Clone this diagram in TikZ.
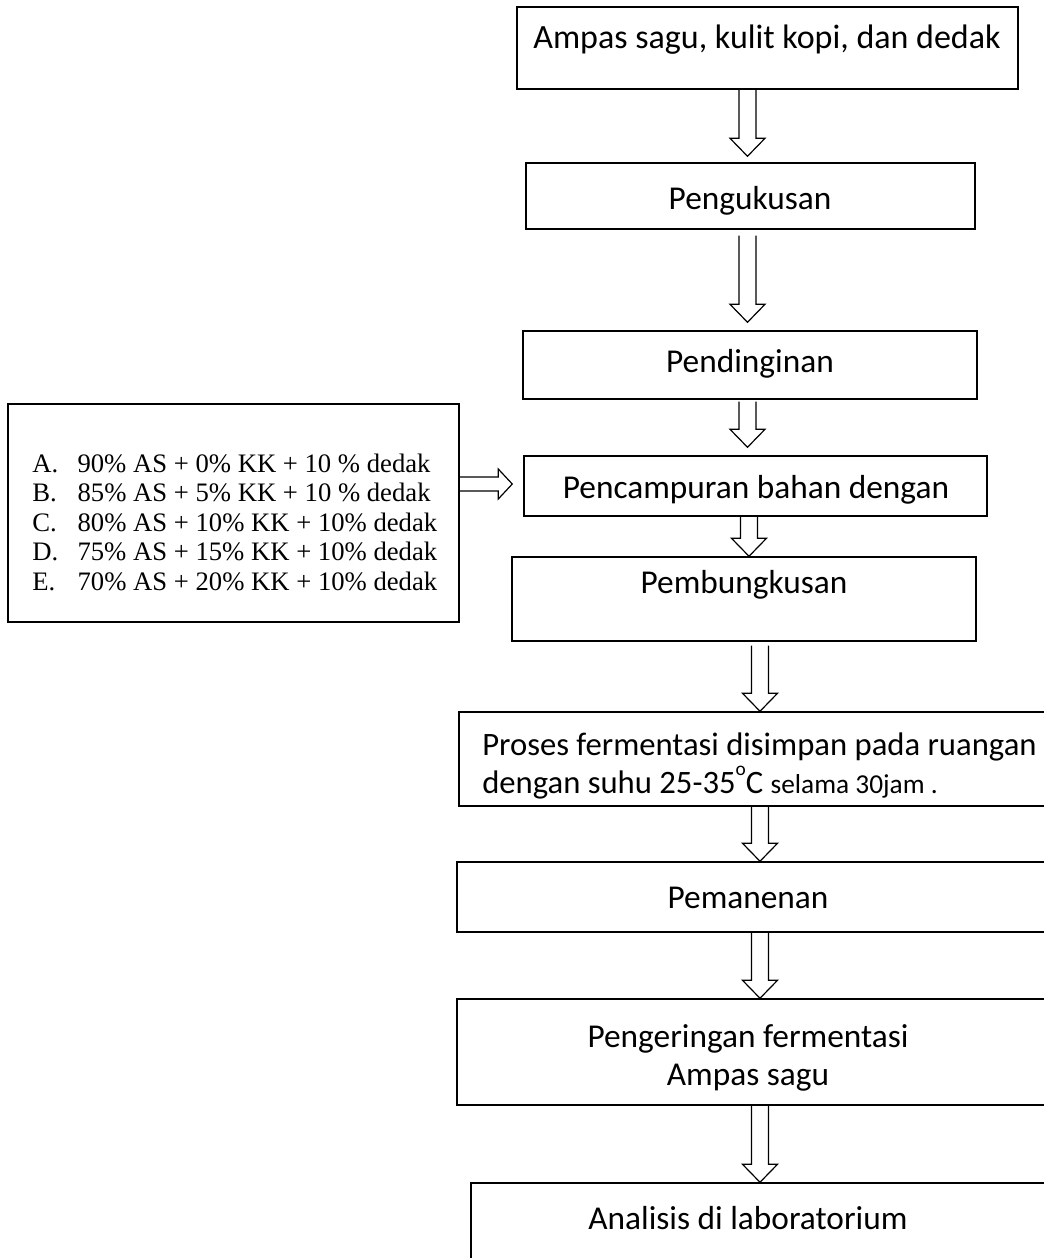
\documentclass[tikz,border=0pt]{standalone}
\usepackage{fontspec}
\setmainfont{Carlito}
\newfontfamily\timesfont{Liberation Serif}
\usetikzlibrary{calc}
\usetikzlibrary{fit}

\begin{document}
\begin{tikzpicture}[x=0.75pt,y=0.75pt,yscale=-1,xscale=1,
  procbox/.style={draw, line width=1.1pt, inner sep=0pt},
  flowtext/.style={font=\fontsize{25}{29}\selectfont, inner sep=0pt, anchor=base},
  fatdown/.style={line width=0.9pt, line join=miter, to path={($(\tikztostart)+(-8.5,0)$) -- ($(\tikztotarget)+(-8.5,-18)$) -- ($(\tikztotarget)+(-17.5,-18)$) -- (\tikztotarget) -- ($(\tikztotarget)+(17.5,-18)$) -- ($(\tikztotarget)+(8.5,-18)$) -- ($(\tikztostart)+(8.5,0)$)}},
  fatright/.style={line width=0.9pt, line join=miter, to path={($(\tikztostart)+(0,-7)$) -- ($(\tikztotarget)+(-14,-7)$) -- ($(\tikztotarget)+(-14,-15)$) -- (\tikztotarget) -- ($(\tikztotarget)+(-14,15)$) -- ($(\tikztotarget)+(-14,7)$) -- ($(\tikztostart)+(0,7)$)}}]
\useasboundingbox (0,0) rectangle (1044,1258);
\clip (0,0) rectangle (1044,1258);

% arrow columns
\coordinate (axa) at (747.5,0);
\coordinate (axb) at (749,0);
\coordinate (axc) at (760,0);
\coordinate (armY) at (0,484);

%Shape: Rectangle [boxes]
\node[procbox, fit={(517,7) (1018,89)}] (ampas) {};
\node[procbox, fit={(526,163) (975,229)}] (pengukusan) {};
\node[procbox, fit={(523,331) (977,399)}] (pendinginan) {};
\node[procbox, fit={(524,456) (987,516)}] (pencampuran) {};
\node[procbox, fit={(512,557) (976,641)}] (pembungkusan) {};
\node[procbox, fit={(459,712) (1080,806)}] (proses) {};
\node[procbox, fit={(457,862) (1080,932)}] (pemanenan) {};
\node[procbox, fit={(457,999) (1080,1105)}] (pengeringan) {};
\node[procbox, fit={(471,1183) (1080,1300)}] (analisis) {};
\node[procbox, fit={(8,404) (459,622)}] (komposisi) {};

%Block Arrows
\draw[fatdown] (ampas.south -| axa) to ($(pengukusan.north -| axa)+(0,-6)$);
\draw[fatdown] ($(pengukusan.south -| axa)+(0,6)$) to ($(pendinginan.north -| axa)+(0,-8)$);
\draw[fatdown] ($(pendinginan.south -| axa)+(0,2)$) to ($(pencampuran.north -| axa)+(0,-8)$);
\draw[fatdown] (pencampuran.south -| axb) to (pembungkusan.north -| axb);
\draw[fatdown] ($(pembungkusan.south -| axc)+(0,4)$) to (proses.north -| axc);
\draw[fatdown] (proses.south -| axc) to (pemanenan.north -| axc);
\draw[fatdown] (pemanenan.south -| axc) to (pengeringan.north -| axc);
\draw[fatdown] (pengeringan.south -| axc) to (analisis.north -| axc);
\draw[fatright] (komposisi.east |- armY) to ($(pencampuran.west |- armY)+(-11,0)$);

% Text Node
\node[flowtext, font=\fontsize{25.5}{29}\selectfont] (tampas) at (767,48) {Ampas sagu, kulit kopi, dan dedak};
% Text Node
\node[flowtext] (tpengukusan) at (750,209) {Pengukusan};
% Text Node
\node[flowtext] (tpendinginan) at (750,372) {Pendinginan};
% Text Node
\node[flowtext] (tpencampuran) at (756,498) {Pencampuran bahan dengan};
% Text Node
\node[flowtext] (tpembungkusan) at (744,593) {Pembungkusan};
% Text Node
\node[flowtext, anchor=base west, font=\fontsize{24.5}{29}\selectfont] (tproses) at (482,755) {Proses fermentasi disimpan pada ruangan};
% Text Node
\node[flowtext, anchor=base west, font=\fontsize{24.5}{29}\selectfont] (tsuhu) at (482,793) {dengan suhu 25-35\raisebox{1.15ex}{\fontsize{14.5}{15}\selectfont o}C {\fontsize{20.5}{29}\selectfont selama 30jam .}};
% Text Node
\node[flowtext] (tpemanenan) at (748,908) {Pemanenan};
% Text Node
\node[flowtext] (tpengeringan) at (748,1047) {Pengeringan fermentasi};
% Text Node
\node[flowtext] (tampassagu) at (748,1085) {Ampas sagu};
% Text Node
\node[flowtext] (tanalisis) at (748,1229) {Analisis di laboratorium};
% Text Node
\node[anchor=base west, inner sep=0pt, font=\timesfont\fontsize{20}{22.2}\selectfont] (tkomposisi) at (32,472) {\begin{tabular}[t]{@{}p{34pt}@{}l@{}}
A. & 90\% AS + 0\% KK + 10 \% dedak\\
B. & 85\% AS + 5\% KK + 10 \% dedak\\
C. & 80\% AS + 10\% KK + 10\% dedak\\
D. & 75\% AS + 15\% KK + 10\% dedak\\
E. & 70\% AS + 20\% KK + 10\% dedak
\end{tabular}};

\end{tikzpicture}
\end{document}
